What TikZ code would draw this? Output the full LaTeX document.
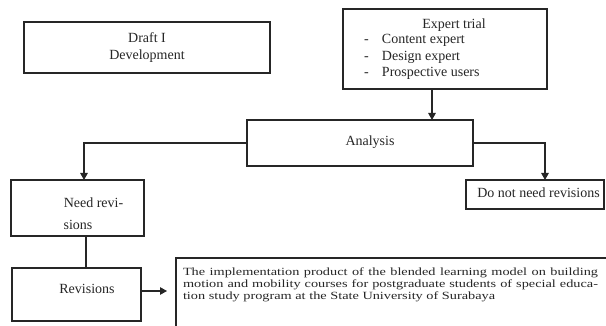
\documentclass[tikz,border=0pt]{standalone}
\usepackage{fontspec}
\setmainfont{Liberation Serif}
\newfontfamily\implfont[FakeStretch=1.3]{Liberation Serif}
\usetikzlibrary{arrows.meta,calc}
\begin{document}
\begin{tikzpicture}[x=1pt,y=-1pt,
 box/.style={draw=black!85, line width=1.2pt, inner sep=0pt, outer sep=0pt},
 txt/.style={inner sep=0pt, outer sep=0pt, text=black!85, font=\fontsize{14}{16.5}\selectfont},
 itxt/.style={inner sep=0pt, outer sep=0pt, text=black!85, font=\implfont\fontsize{11}{11.5}\selectfont, anchor=base west},
 arr/.style={line width=1.2pt, draw=black!85, -{Triangle[width=7.5pt,length=7pt]}},
 conn/.style={line width=1.2pt, draw=black!85}]
\clip (0,0) rectangle (606,326);
\fill[white] (0,0) rectangle (606,326);
% boxes
\node[box, txt, minimum width=246pt, minimum height=51pt, align=center] (draft) at (147,47.5) {Draft I\\Development};
\node[box, minimum width=204pt, minimum height=80pt] (exp) at (445,49) {};
\node[box, minimum width=226pt, minimum height=46pt] (ana) at (360,143) {};
\node[box, minimum width=133pt, minimum height=56pt] (need) at (77.5,208) {};
\node[box, minimum width=138pt, minimum height=29pt] (don) at (535,194.5) {};
\node[box, minimum width=129pt, minimum height=53pt] (rev) at (76.5,294.5) {};
\node[box, minimum width=464pt, minimum height=102pt] (impl) at (408,309) {};
% texts
\node[txt] (exptitle) at (454,25) {Expert trial};
\node[txt, anchor=west, align=left] (explist) at (364,57.3)
 {\makebox[18pt][l]{-}Content expert\\\makebox[18pt][l]{-}Design expert\\\makebox[18pt][l]{-}Prospective users};
\node[txt] (anatext) at (370,142) {Analysis};
\node[txt] (needtext1) at (93.5,203) {Need revi-};
\node[txt] (needtext2) at (78,225) {sions};
\node[txt] (dontext) at (538.5,193) {Do not need revisions};
\node[txt] (revtext) at (87,289) {Revisions};
\node[itxt] (impl1) at (183,276) {\makebox[415pt][s]{The implementation product of the blended learning model on building}};
\node[itxt] (impl2) at (183,287.5) {\makebox[415pt][s]{motion and mobility courses for postgraduate students of special educa-}};
\node[itxt] (impl3) at (183,299) {tion study program at the State University of Surabaya};
% connectors
\draw[arr] ([xshift=-13pt]exp.south) -- ([xshift=-13pt]exp.south |- ana.north);
\draw[arr] (ana.west) -| ([xshift=6.5pt]need.north);
\draw[arr] (ana.east) -| ([xshift=10pt]don.north);
\draw[conn] ([xshift=8.5pt]need.south) -- ([xshift=8.5pt]need.south |- rev.north);
\draw[arr, shorten >=9pt] ([yshift=3.5pt]rev.east) -- ([yshift=3.5pt]rev.east -| impl.west);
\end{tikzpicture}
\end{document}
